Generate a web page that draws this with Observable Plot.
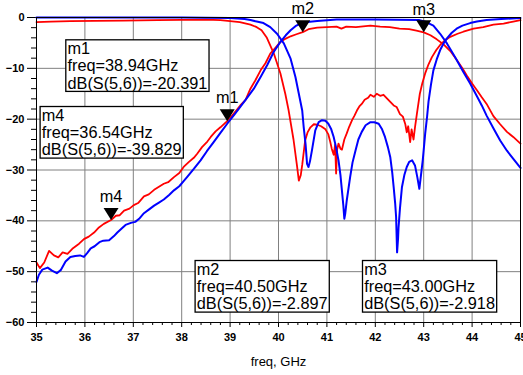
<!DOCTYPE html>
<html><head><meta charset="utf-8">
<script src="https://cdn.jsdelivr.net/npm/d3@7"></script>
<script src="https://cdn.jsdelivr.net/npm/@observablehq/plot@0.6"></script>
<style>html,body{margin:0;padding:0;background:#fff;}</style>
</head><body><div id="chart"></div>
<script>
// ---- Data ----
const xTicks = [35, 36, 37, 38, 39, 40, 41, 42, 43, 44, 45];
const yTicks = [0, -10, -20, -30, -40, -50, -60];
const xLabel = "freq, GHz";

// Red trace: dB(S(5,6)) transmission (markers on it)
const redTransFreq = [35.0,35.07,35.16,35.26,35.36,35.45,35.54,35.64,35.74,35.88,35.98,36.08,36.19,36.29,36.39,36.54,36.64,36.72,36.81,36.92,37.01,37.1,37.22,37.32,37.43,37.53,37.63,37.72,37.84,37.95,38.04,38.15,38.25,38.32,38.42,38.53,38.6,38.7,38.8,38.94,39.05,39.21,39.32,39.42,39.52,39.63,39.73,39.83,39.94,40.04,40.14,40.25,40.37,40.5,40.62,40.8,41.0,41.2,41.3,41.4,41.6,41.8,41.9,42.1,42.3,42.5,42.7,42.85,43.0,43.14,43.27,43.4,43.55,43.68,43.8,43.89,44.0,44.1,44.2,44.3,44.44,44.58,44.72,44.85,45.0];
const redTransDb = [-48.2,-49.3,-48.2,-45.9,-46.8,-47.2,-46.2,-46.5,-45.5,-44.5,-43.6,-43.1,-42.3,-41.3,-40.6,-39.829,-39.0,-38.9,-38.0,-37.6,-36.9,-36.5,-35.2,-34.8,-33.9,-33.3,-32.7,-32.4,-31.4,-30.6,-29.4,-28.4,-27.6,-26.8,-25.5,-24.4,-23.5,-22.4,-21.6,-20.391,-19.2,-17.3,-16.2,-14.0,-12.4,-10.4,-9.0,-7.1,-5.9,-4.8,-4.2,-3.7,-3.3,-2.897,-2.3,-2.0,-1.9,-1.8,-2.2,-1.8,-1.9,-1.7,-1.6,-1.8,-1.9,-2.2,-2.3,-2.6,-2.918,-3.5,-4.3,-5.2,-6.6,-8.3,-10.0,-11.4,-13.0,-14.3,-15.7,-17.0,-19.4,-21.0,-22.5,-23.5,-24.8];

// Blue trace: transmission
const blueTransFreq = [35.0,35.05,35.12,35.23,35.32,35.42,35.5,35.6,35.7,35.8,35.9,35.98,36.05,36.12,36.2,36.3,36.38,36.5,36.6,36.67,36.76,36.84,36.95,37.04,37.12,37.22,37.32,37.43,37.53,37.63,37.74,37.84,37.95,38.04,38.11,38.25,38.39,38.52,38.66,38.8,38.94,39.08,39.21,39.35,39.49,39.63,39.77,39.9,40.04,40.15,40.25,40.35,40.45,40.6,40.8,41.2,42.0,42.9,43.05,43.2,43.34,43.48,43.65,43.82,43.96,44.1,44.2,44.3,44.44,44.58,44.72,44.86,45.0];
const blueTransDb = [-52.0,-50.6,-49.6,-49.2,-49.8,-50.3,-49.7,-48.0,-47.1,-46.9,-46.8,-47.1,-46.3,-45.4,-45.0,-44.2,-43.9,-43.8,-43.0,-42.3,-41.5,-40.8,-40.4,-40.2,-39.6,-38.5,-37.8,-37.0,-36.4,-35.8,-34.9,-34.0,-33.2,-32.2,-31.4,-29.8,-28.1,-26.3,-24.5,-22.7,-20.9,-19.2,-17.6,-15.8,-14.0,-11.7,-9.3,-6.8,-4.8,-3.5,-2.5,-1.7,-1.2,-0.9,-0.7,-0.4,-0.4,-0.5,-0.9,-1.6,-3.2,-5.1,-7.8,-10.7,-13.0,-15.5,-17.3,-19.3,-21.8,-24.2,-26.2,-27.9,-29.6];

// Red trace: reflection
const redReflFreq = [35.0,35.3,35.7,36.2,36.8,37.5,38.0,38.5,38.8,39.0,39.2,39.42,39.55,39.65,39.76,39.9,40.04,40.14,40.21,40.31,40.38,40.42,40.46,40.49,40.55,40.6,40.66,40.73,40.8,40.88,40.97,41.03,41.07,41.1,41.14,41.17,41.19,41.21,41.24,41.28,41.31,41.36,41.41,41.46,41.52,41.57,41.62,41.67,41.72,41.78,41.85,41.9,41.97,42.03,42.1,42.17,42.24,42.31,42.38,42.44,42.51,42.57,42.62,42.65,42.68,42.72,42.75,42.79,42.82,42.86,42.92,42.97,43.03,43.1,43.17,43.26,43.34,43.45,43.55,43.7,43.82,44.03,44.23,44.44,44.65,44.85,45.0];
const redReflDb = [-0.9,-0.8,-0.7,-0.65,-0.6,-0.5,-0.45,-0.4,-0.5,-0.7,-0.9,-1.4,-1.9,-2.5,-4.0,-7.0,-11.0,-15.0,-18.3,-24.0,-29.0,-32.1,-31.0,-29.0,-24.2,-22.6,-21.6,-21.0,-21.1,-21.4,-22.0,-23.0,-24.5,-25.8,-27.0,-25.0,-30.7,-26.0,-24.8,-25.8,-26.0,-24.0,-22.8,-21.5,-20.2,-19.3,-18.3,-17.5,-17.0,-16.2,-15.8,-15.2,-15.6,-15.0,-15.4,-15.2,-15.9,-16.6,-17.3,-17.6,-19.0,-19.5,-21.0,-22.6,-21.4,-24.5,-22.0,-24.0,-21.6,-18.9,-15.0,-13.0,-11.0,-9.2,-7.8,-6.4,-5.4,-4.4,-3.8,-3.2,-2.8,-2.2,-1.9,-1.4,-1.2,-0.8,-0.5];

// Blue trace: reflection
const blueReflFreq = [35.0,36.0,37.0,38.0,39.0,39.3,39.42,39.55,39.69,39.83,39.97,40.11,40.25,40.35,40.42,40.49,40.52,40.56,40.59,40.62,40.65,40.69,40.76,40.83,40.9,40.97,41.03,41.09,41.14,41.19,41.24,41.28,41.31,41.34,41.36,41.38,41.41,41.48,41.53,41.59,41.65,41.72,41.8,41.9,41.98,42.07,42.14,42.2,42.26,42.31,42.35,42.38,42.41,42.43,42.45,42.47,42.48,42.51,42.55,42.6,42.65,42.7,42.76,42.82,42.87,42.91,42.95,42.98,43.01,43.03,43.07,43.1,43.15,43.2,43.27,43.34,43.41,43.48,43.58,43.68,43.8,43.96,44.1,44.3,44.6,45.0];
const blueReflDb = [0,0,0,0,-0.1,-0.3,-0.5,-0.8,-1.1,-1.9,-3.2,-5.1,-8.1,-11.7,-15.0,-18.3,-21.5,-25.0,-28.8,-29.4,-28.3,-26.2,-22.2,-20.6,-20.2,-20.3,-20.9,-22.0,-23.5,-25.6,-28.1,-31.0,-34.0,-37.0,-39.6,-38.5,-36.0,-31.4,-28.5,-26.2,-24.0,-22.5,-21.2,-20.6,-20.6,-20.9,-22.0,-23.5,-25.5,-27.5,-30.5,-33.4,-36.5,-39.3,-46.2,-43.5,-41.3,-37.5,-33.4,-31.0,-29.4,-28.4,-28.1,-29.1,-31.5,-33.7,-30.5,-28.1,-25.0,-22.9,-19.5,-16.5,-13.2,-10.4,-8.2,-6.4,-5.1,-4.1,-3.0,-2.2,-1.6,-1.1,-0.8,-0.5,-0.3,-0.1];

// Markers on dB(S(5,6))
const markerNames = ["m1", "m2", "m3", "m4"];
const markerFreq = [38.94, 40.50, 43.00, 36.54];
const markerDb = [-20.391, -2.897, -2.918, -39.829];
const traceName = "dB(S(5,6))";

// ---- Layout (pixel offsets of readout boxes inside the frame) ----
const boxOffsets = {m1: [31, 24.6], m2: [160.3, 245.3], m3: [327.7, 245.3], m4: [5.3, 91.3]};

const rows = (f, v) => f.map((x, i) => ({f: x, v: v[i]}));
const markers = markerNames.map((n, i) => ({name: n, f: markerFreq[i], v: markerDb[i]}));
const xMinor = d3.range(35, 45.001, 0.2).map(d => +d.toFixed(1)).filter(d => !xTicks.includes(d));
const yMinor = d3.range(-60, 0.001, 2).filter(d => !yTicks.includes(d));

const downTriangle = {draw(ctx) { ctx.moveTo(0, 0); ctx.lineTo(-7.5, -12); ctx.lineTo(7.5, -12); ctx.closePath(); }};
const annFont = 16.3;

const chart = Plot.plot({
  width: 523, height: 375,
  marginLeft: 36, marginRight: 3, marginTop: 17, marginBottom: 53,
  style: {fontFamily: "'Liberation Sans', Arial, sans-serif", background: "white", color: "black"},
  x: {domain: [35, 45]},
  y: {domain: [-60, 0]},
  marks: [
    Plot.gridX(xTicks.slice(1, -1), {stroke: "#808080", strokeOpacity: 1, strokeWidth: 1}),
    Plot.gridY(yTicks.slice(1, -1), {stroke: "#808080", strokeOpacity: 1, strokeWidth: 1}),
    Plot.axisX({ticks: xTicks, tickSize: 5, tickPadding: 6, fontSize: 11, fontWeight: "bold", label: null}),
    Plot.axisX({ticks: xMinor, tickSize: 3, tickFormat: () => "", label: null}),
    Plot.axisY({ticks: yTicks, tickSize: 9, tickPadding: 3, fontSize: 11, fontWeight: "bold", label: null}),
    Plot.axisY({ticks: yMinor, tickSize: 5, tickFormat: () => "", label: null}),
    Plot.text([xLabel], {frameAnchor: "bottom", dy: 39, fontSize: 13, lineAnchor: "middle"}),
    Plot.line(rows(redReflFreq, redReflDb), {x: "f", y: "v", stroke: "#ff0000", strokeWidth: 1.8}),
    Plot.line(rows(redTransFreq, redTransDb), {x: "f", y: "v", stroke: "#ff0000", strokeWidth: 1.8}),
    Plot.line(rows(blueReflFreq, blueReflDb), {x: "f", y: "v", stroke: "#0000ff", strokeWidth: 2}),
    Plot.line(rows(blueTransFreq, blueTransDb), {x: "f", y: "v", stroke: "#0000ff", strokeWidth: 2}),
    Plot.frame({stroke: "black", strokeWidth: 1}),
    Plot.dot(markers, {x: "f", y: "v", symbol: downTriangle, fill: "black", stroke: "none", r: 5}),
    Plot.text(markers, {x: "f", y: "v", text: "name", dy: -23, fontSize: annFont, lineAnchor: "middle", fill: "black"}),
    ...markers.map(m => Plot.text([m], {
      frameAnchor: "top-left", textAnchor: "start", lineAnchor: "top",
      dx: boxOffsets[m.name][0], dy: boxOffsets[m.name][1],
      text: d => `${d.name}\nfreq=${d.f.toFixed(2)}GHz\n${traceName}=${d.v.toFixed(3)}`,
      fontSize: annFont, lineHeight: 1.055, fill: "black"
    }))
  ]
});
document.getElementById("chart").append(chart);

// white readout boxes behind the marker text
d3.select(chart).selectAll("text")
  .filter(function() { return this.textContent.includes("freq="); })
  .each(function() {
    const b = this.getBBox();
    const r = document.createElementNS("http://www.w3.org/2000/svg", "rect");
    r.setAttribute("x", b.x - 1.7);
    r.setAttribute("y", b.y + 0.5);
    r.setAttribute("width", b.width + 3.4);
    r.setAttribute("height", b.height - 0.8);
    r.setAttribute("fill", "white");
    r.setAttribute("stroke", "black");
    r.setAttribute("stroke-width", 1.3);
    const t = this.getAttribute("transform");
    if (t) r.setAttribute("transform", t);
    this.parentNode.insertBefore(r, this);
  });
</script></body></html>
